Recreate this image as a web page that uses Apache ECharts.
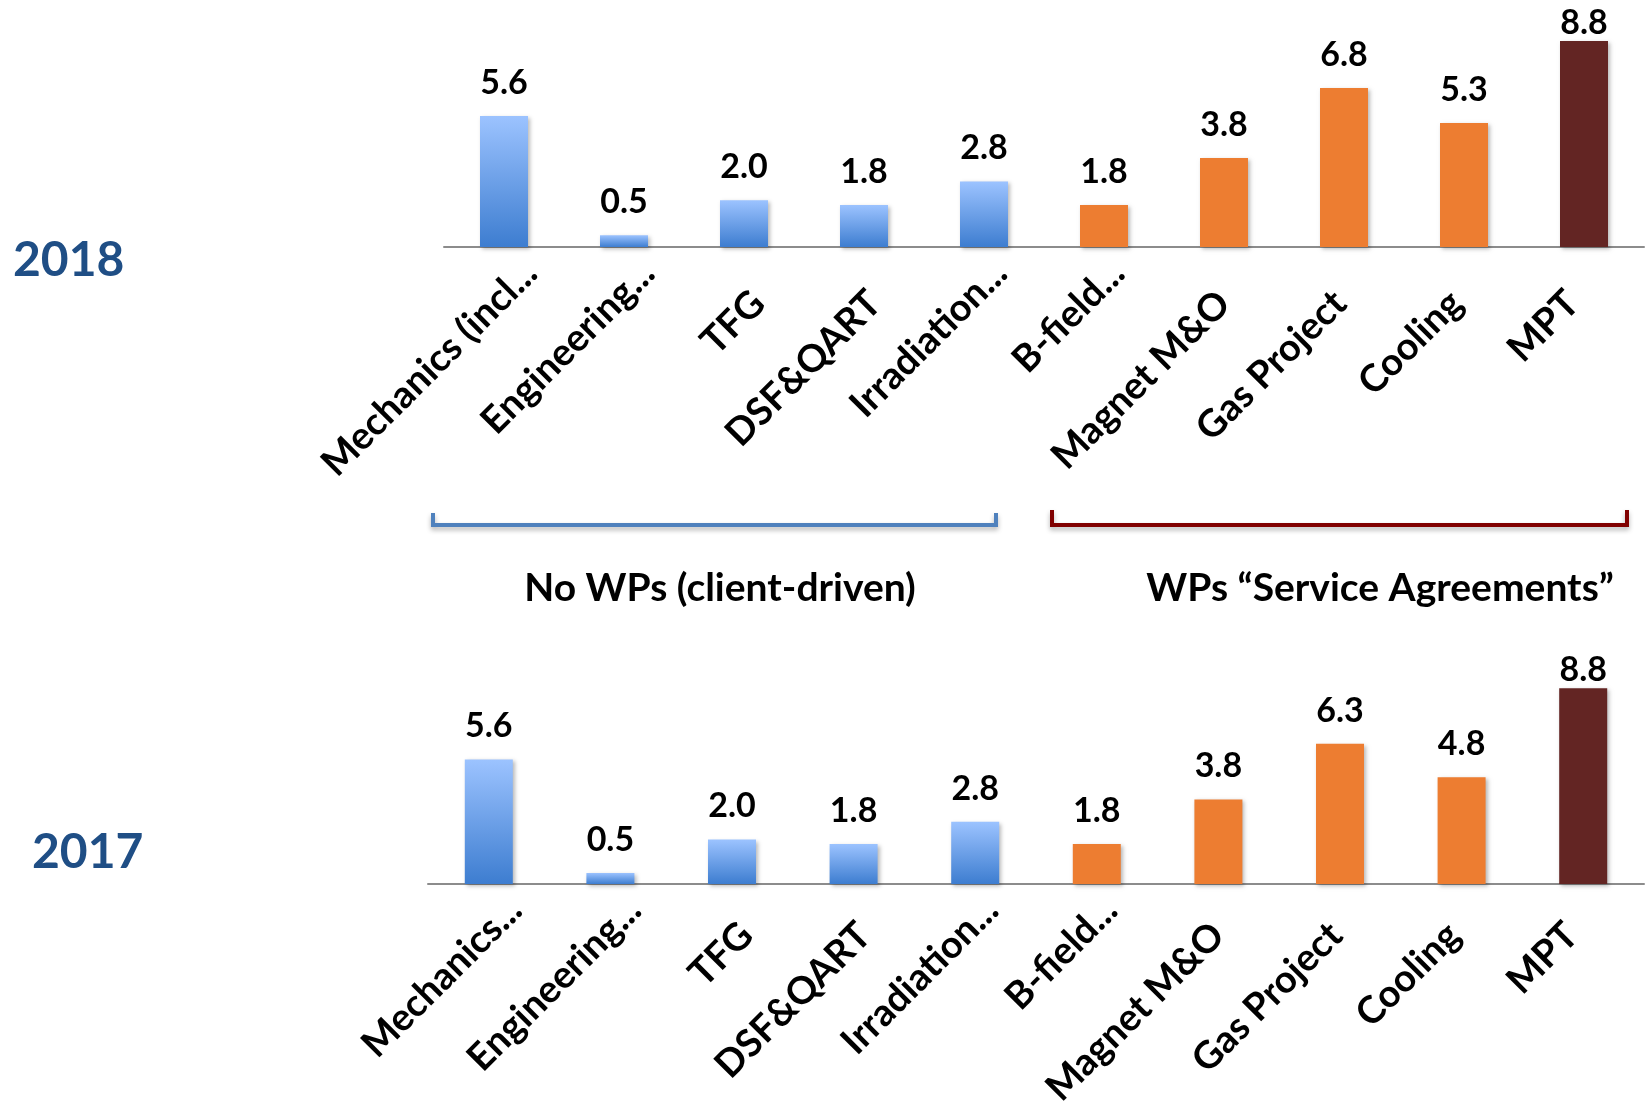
<!DOCTYPE html>
<html>
<head>
<meta charset="utf-8">
<script src="https://cdn.jsdelivr.net/npm/echarts@6/dist/echarts.min.js"></script>
<style>html,body{margin:0;padding:0;background:#fff}#c{width:1647px;height:1110px}</style>
</head>
<body>
<div id="c"></div>
<script>
// ---- data ----
var categories2018 = ['Mechanics (incl...', 'Engineering...', 'TFG', 'DSF&QART', 'Irradiation...', 'B-field...', 'Magnet M&O', 'Gas Project', 'Cooling', 'MPT'];
var categories2017 = ['Mechanics...', 'Engineering...', 'TFG', 'DSF&QART', 'Irradiation...', 'B-field...', 'Magnet M&O', 'Gas Project', 'Cooling', 'MPT'];
var values2018 = [5.6, 0.5, 2.0, 1.8, 2.8, 1.8, 3.8, 6.8, 5.3, 8.8];
var values2017 = [5.6, 0.5, 2.0, 1.8, 2.8, 1.8, 3.8, 6.3, 4.8, 8.8];
var groupOf = ['client', 'client', 'client', 'client', 'client', 'service', 'service', 'service', 'service', 'mpt'];
var yearLabels = ['2018', '2017'];
var groupTitles = ['No WPs (client-driven)', 'WPs \u201cService Agreements\u201d'];

// ---- styling ----
var FONT = 'Lato';
var blueGrad = new echarts.graphic.LinearGradient(0, 0, 0, 1, [
  { offset: 0, color: '#9cc3ff' },
  { offset: 1, color: '#3d7dd0' }
]);
var colorFor = { client: blueGrad, service: '#ed7d31', mpt: '#632523' };
function buildData(vals) {
  var mx = Math.max.apply(null, vals);
  return vals.map(function (v, i) {
    var item = { value: v, itemStyle: { color: colorFor[groupOf[i]] } };
    // the tallest bar's label is squeezed against the plot top, as in the original
    if (v === mx) item.label = { distance: 1 };
    return item;
  });
}
function isTruncated(c) { return /\.\.\.$/.test(c); }
var shadow = { shadowColor: 'rgba(0,0,0,0.28)', shadowBlur: 4, shadowOffsetX: 2, shadowOffsetY: 2 };

// bar grids, and label-only grids shifted so the slanted labels hang like the original
var barGrids = [
  { left: 444, width: 1200, top: 36.4, height: 210.6 },
  { left: 428, width: 1216, top: 683.8, height: 200.2 }
];
function shifted(g, dx) { return { left: g.left + dx, width: g.width, top: g.top, height: g.height }; }
var SHIFT_TRUNC = 28, SHIFT_FULL = 40;
var labelGrids = [
  shifted(barGrids[0], SHIFT_TRUNC), shifted(barGrids[1], SHIFT_TRUNC),
  shifted(barGrids[0], SHIFT_FULL), shifted(barGrids[1], SHIFT_FULL)
];

function barAxis(idx, cats) {
  return {
    type: 'category', gridIndex: idx, data: cats,
    axisLine: { lineStyle: { color: '#8c8c8c', width: 2 } },
    axisTick: { show: false },
    axisLabel: { show: false }
  };
}
function labelAxis(idx, cats, truncatedOnes) {
  return {
    type: 'category', gridIndex: idx, data: cats,
    axisLine: { show: false }, axisTick: { show: false },
    axisLabel: {
      rotate: 45, interval: 0, margin: truncatedOnes ? 20 : 34,
      padding: truncatedOnes ? [0, 0, 0, 0] : [0, 23, 0, 0],
      color: '#000', fontFamily: FONT, fontWeight: 'bold', fontSize: 38,
      formatter: function (v) { return isTruncated(v) === truncatedOnes ? v : ''; }
    }
  };
}
function yAxisCfg(idx) {
  return { type: 'value', gridIndex: idx, min: 0, max: 9, show: false, splitLine: { show: false } };
}
function seriesCfg(idx, vals) {
  return {
    type: 'bar', xAxisIndex: idx, yAxisIndex: idx, barWidth: 48,
    data: buildData(vals),
    itemStyle: shadow,
    label: {
      show: true, position: 'top', distance: 16, color: '#000',
      fontFamily: FONT, fontWeight: 'bold', fontSize: 34,
      formatter: function (p) { return p.value.toFixed(1); }
    },
    silent: true
  };
}

var chart = echarts.init(document.getElementById('c'), null, { renderer: 'canvas' });
chart.setOption({
  animation: false,
  backgroundColor: '#fff',
  grid: barGrids.concat(labelGrids),
  xAxis: [
    barAxis(0, categories2018), barAxis(1, categories2017),
    labelAxis(2, categories2018, true), labelAxis(3, categories2017, true),
    labelAxis(4, categories2018, false), labelAxis(5, categories2017, false)
  ],
  yAxis: [yAxisCfg(0), yAxisCfg(1), yAxisCfg(2), yAxisCfg(3), yAxisCfg(4), yAxisCfg(5)],
  series: [seriesCfg(0, values2018), seriesCfg(1, values2017)],
  graphic: [
    { type: 'text', left: 13, top: 237, style: { text: yearLabels[0], fill: '#1f4e85', font: 'bold 48px ' + FONT } },
    { type: 'text', left: 32, top: 829, style: { text: yearLabels[1], fill: '#1f4e85', font: 'bold 48px ' + FONT } },
    { type: 'polyline', shape: { points: [[433, 513], [433, 525], [996, 525], [996, 513]] },
      style: { stroke: '#4f81bd', lineWidth: 4, fill: null, shadowColor: 'rgba(0,0,0,0.3)', shadowBlur: 5, shadowOffsetY: 3 } },
    { type: 'polyline', shape: { points: [[1052, 510], [1052, 525], [1627, 525], [1627, 510]] },
      style: { stroke: '#800000', lineWidth: 4, fill: null, shadowColor: 'rgba(0,0,0,0.3)', shadowBlur: 5, shadowOffsetY: 3 } },
    { type: 'text', x: 720, y: 588, style: { text: groupTitles[0], fill: '#000', font: 'bold 39px ' + FONT, align: 'center', verticalAlign: 'middle' } },
    { type: 'text', x: 1380, y: 588, style: { text: groupTitles[1], fill: '#000', font: 'bold 39px ' + FONT, align: 'center', verticalAlign: 'middle' } }
  ]
});
</script>
</body>
</html>
